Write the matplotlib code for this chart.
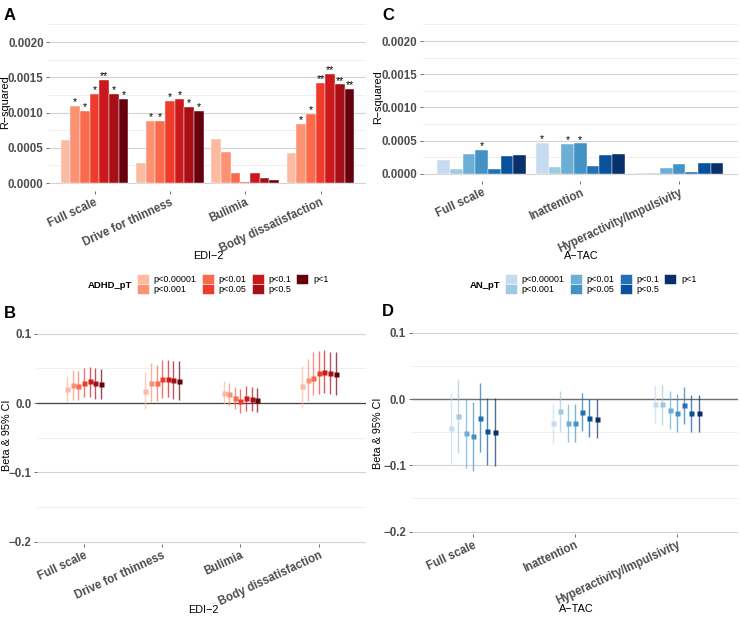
import matplotlib
matplotlib.use('Agg')
import matplotlib.pyplot as plt
from matplotlib.patches import Patch

plt.rcParams['font.family'] = ['Liberation Sans', 'DejaVu Sans']

W, H = 740, 617

thresholds = ['p<0.00001', 'p<0.001', 'p<0.01', 'p<0.05', 'p<0.1', 'p<0.5', 'p<1']
reds = ['#fcbba1', '#fc9272', '#fb6a4a', '#ef3b2c', '#cb181d', '#a50f15', '#67000d']
blues = ['#c6dbef', '#9ecae1', '#6baed6', '#4292c6', '#2171b5', '#08519c', '#08306b']

# EDI-2 outcomes (ADHD PRS)
edi_scales = ['Full scale', 'Drive for thinness', 'Bulimia', 'Body dissatisfaction']
edi_r2 = [
    [0.000607, 0.001095, 0.001024, 0.00127, 0.00146, 0.00127, 0.001194],
    [0.00028, 0.000877, 0.000877, 0.00117, 0.001194, 0.001076, 0.00102],
    [0.000626, 0.00044, 0.000137, 0.000014, 0.000137, 0.000066, 0.00004],
    [0.000427, 0.000844, 0.00098, 0.001417, 0.001545, 0.001398, 0.001332],
]
edi_stars = [
    ['', '*', '*', '*', '**', '*', '*'],
    ['', '*', '*', '*', '*', '*', '*'],
    ['', '', '', '', '', '', ''],
    ['', '*', '*', '**', '**', '**', '**'],
]
edi_beta = [
    [0.020, 0.026, 0.025, 0.029, 0.031, 0.029, 0.027],
    [0.017, 0.029, 0.029, 0.034, 0.035, 0.033, 0.032],
    [0.014, 0.0125, 0.007, 0.0034, 0.007, 0.0053, 0.0043],
    [0.024, 0.033, 0.0356, 0.0433, 0.0452, 0.0428, 0.0423],
]
edi_lo = [
    [0.001, 0.005, 0.004, 0.008, 0.008, 0.006, 0.006],
    [-0.009, 0.002, 0.003, 0.007, 0.008, 0.006, 0.005],
    [-0.002, -0.005, -0.009, -0.0144, -0.011, -0.0115, -0.0135],
    [-0.006, 0.0024, 0.012, 0.0125, 0.014, 0.0125, 0.011],
]
edi_hi = [
    [0.039, 0.047, 0.046, 0.050, 0.052, 0.050, 0.0495],
    [0.044, 0.057, 0.055, 0.062, 0.0625, 0.060, 0.060],
    [0.031, 0.029, 0.0226, 0.020, 0.025, 0.023, 0.0216],
    [0.054, 0.064, 0.074, 0.075, 0.076, 0.074, 0.073],
]

# A-TAC outcomes (AN PRS)
atac_scales = ['Full scale', 'Inattention', 'Hyperactivity/Impulsivity']
atac_r2 = [
    [0.000215, 0.00007, 0.0003, 0.00036, 0.00008, 0.00027, 0.00028],
    [0.00047, 0.000105, 0.000455, 0.00046, 0.00012, 0.000285, 0.000295],
    [0.000015, 0.000015, 0.00009, 0.00015, 0.00003, 0.00016, 0.000165],
]
atac_stars = [
    ['', '', '', '*', '', '', ''],
    ['*', '', '*', '*', '', '', ''],
    ['', '', '', '', '', '', ''],
]
atac_beta = [
    [-0.0437, -0.0256, -0.0513, -0.0563, -0.0281, -0.0482, -0.0497],
    [-0.036, -0.018, -0.036, -0.036, -0.019, -0.029, -0.0296],
    [-0.0075, -0.0075, -0.016, -0.0206, -0.0095, -0.021, -0.021],
]
atac_lo = [
    [-0.0975, -0.081, -0.104, -0.109, -0.080, -0.100, -0.1015],
    [-0.066, -0.049, -0.065, -0.065, -0.048, -0.058, -0.059],
    [-0.0367, -0.039, -0.0447, -0.049, -0.038, -0.049, -0.049],
]
atac_hi = [
    [0.009, 0.029, 0.001, -0.0045, 0.024, 0.002, 0.001],
    [-0.0075, 0.0116, -0.0075, -0.0075, 0.009, 0.0, -0.0005],
    [0.021, 0.0216, 0.0126, 0.0075, 0.018, 0.0065, 0.0065],
]

fig = plt.figure(figsize=(W / 100, H / 100), dpi=100)


def add_panel(l, t, r, b):
    return fig.add_axes([l / W, 1 - b / H, (r - l) / W, (b - t) / H])


def style(ax, major, labels, minor, ylim, ncat):
    ax.set_ylim(*ylim)
    ax.set_xlim(0.4, ncat + 0.6)
    ax.set_yticks(major)
    ax.set_yticklabels(labels, fontweight='bold')
    ax.set_yticks(minor, minor=True)
    ax.grid(axis='y', which='major', color='#D2D2D2', lw=0.8)
    ax.grid(axis='y', which='minor', color='#EDEDED', lw=0.6)
    ax.set_axisbelow(True)
    for s in ax.spines.values():
        s.set_visible(False)
    ax.tick_params(which='major', length=2.5, width=0.6, color='#555555',
                   labelsize=8.3, labelcolor='#4D4D4D', pad=1.5)
    ax.tick_params(which='minor', length=0)


def xlabels(ax, cats):
    ax.set_xticks(range(1, len(cats) + 1))
    ax.set_xticklabels(cats, rotation=25, ha='right', rotation_mode='anchor',
                       fontweight='bold')


def bars(ax, cats, r2, stars, colors):
    w = 0.9 / 7
    for i, cat in enumerate(cats):
        for j in range(7):
            x = i + 1 + (j - 3) * w
            ax.bar(x, r2[i][j], width=w, color=colors[j], edgecolor='white', lw=0.3)
            if stars[i][j]:
                ax.annotate(stars[i][j], (x, r2[i][j]), xytext=(0, 0.5),
                            textcoords='offset points', ha='center', va='baseline',
                            fontsize=7.5)


def forest(ax, cats, beta, lo, hi, colors):
    w = 0.5 / 7
    for i, cat in enumerate(cats):
        for j in range(7):
            x = i + 1 + (j - 3) * w
            ax.vlines(x, lo[i][j], hi[i][j], colors=colors[j], lw=1.0, alpha=0.7)
            ax.plot(x, beta[i][j], 's', ms=3.6, color=colors[j], mec='none')


r2_ticks = [0, 0.0005, 0.001, 0.0015, 0.002]
r2_labels = ['%.4f' % v for v in r2_ticks]
r2_minor = [0.00025, 0.00075, 0.00125, 0.00175, 0.00225]
b_ticks = [-0.2, -0.1, 0.0, 0.1]
b_labels = ['\u22120.2', '\u22120.1', '0.0', '0.1']
b_minor = [-0.15, -0.05, 0.05]

# A
axA = add_panel(49.3, 20.2, 365.7, 190.8)
bars(axA, edi_scales, edi_r2, edi_stars, reds)
style(axA, r2_ticks, r2_labels, r2_minor, (-0.00011, 0.00231), 4)
xlabels(axA, edi_scales)

# C
axC = add_panel(422.7, 20.4, 738, 181.3)
bars(axC, atac_scales, atac_r2, atac_stars, blues)
style(axC, r2_ticks, r2_labels, r2_minor, (-0.00011, 0.00231), 3)
xlabels(axC, atac_scales)

# B
axB = add_panel(37, 323.2, 365.7, 543.9)
axB.axhline(0, color='#444444', lw=0.9, zorder=1)
forest(axB, edi_scales, edi_beta, edi_lo, edi_hi, reds)
style(axB, b_ticks, b_labels, b_minor, (-0.203, 0.115), 4)
xlabels(axB, edi_scales)

# D
axD = add_panel(411.7, 322.8, 738, 533.6)
axD.axhline(0, color='#6E6E6E', lw=1.0, zorder=1)
forest(axD, atac_scales, atac_beta, atac_lo, atac_hi, blues)
style(axD, b_ticks, b_labels, b_minor, (-0.203, 0.115), 3)
xlabels(axD, atac_scales)

# y axis titles
for x, y, s in [(5.5, 102, 'R\u2212squared'), (378.5, 97, 'R\u2212squared'),
                (7.5, 435, 'Beta & 95% CI'), (378, 433, 'Beta & 95% CI')]:
    fig.text(x / W, 1 - y / H, s, ha='center', va='center', rotation=90,
             fontsize=7.8)

# x axis titles
for x, y, s in [(208, 256, 'EDI\u22122'), (581, 256, 'A\u2212TAC'),
                (203, 610, 'EDI\u22122'), (576, 609, 'A\u2212TAC')]:
    fig.text(x / W, 1 - y / H, s, ha='center', va='center', fontsize=7.8)

# panel letters
for x, y, s in [(9.5, 15.5, 'A'), (388, 15, 'C'), (9.5, 313, 'B'), (388, 312, 'D')]:
    fig.text(x / W, 1 - y / H, s, ha='center', va='center', fontsize=12,
             fontweight='bold')

# legends
for key_x, title, colors in [(137, 'ADHD_pT', reds), (505, 'AN_pT', blues)]:
    handles = [Patch(facecolor=c, edgecolor='white', lw=0.4) for c in colors]
    fig.legend(handles, thresholds, ncol=4, loc='upper left',
               bbox_to_anchor=(key_x / W, 1 - 274 / H), frameon=False,
               fontsize=6.5, handlelength=1.33, handleheight=1.27,
               handletextpad=0.5, labelspacing=0, columnspacing=0.6,
               borderpad=0, borderaxespad=0)
    fig.text((key_x - 5) / W, 1 - 286 / H, title, ha='right', va='center',
             fontsize=6.8, fontweight='bold')

fig.savefig('out.png', dpi=100)
